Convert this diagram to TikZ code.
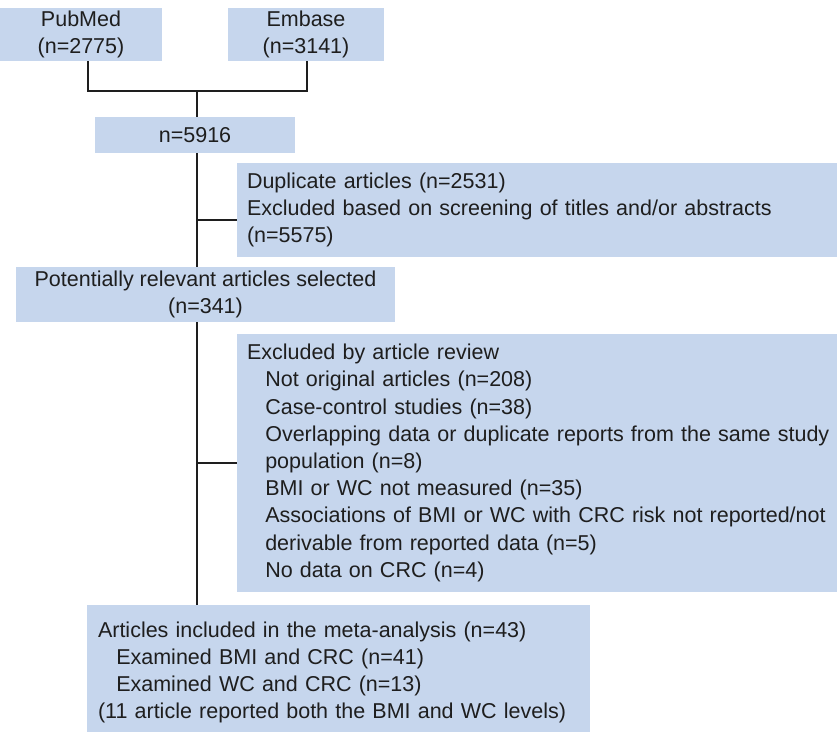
\documentclass[tikz,border=0pt]{standalone}
\usepackage{fontspec}
\setmainfont{Liberation Sans}
\definecolor{boxblue}{RGB}{198,214,237}
\definecolor{inkgray}{RGB}{30,30,30}
\newcommand{\ind}{\hspace*{0.85em}}
\begin{document}
\begin{tikzpicture}[x=1pt, y=-1pt,
    box/.style={fill=boxblue, text=inkgray, inner ysep=0pt,
        font=\fontsize{21.5}{27.2}\selectfont},
    cbox/.style={box, align=center, inner xsep=0pt},
    lbox/.style={box, align=left, inner xsep=10pt},
    link/.style={line width=2.7pt, draw=inkgray}]
    \useasboundingbox (0,0) rectangle (837,731);

    \node [cbox, minimum width=162pt, minimum height=53pt] (pub) at (81,34.5) {PubMed\\(n=2775)};
    \node [cbox, minimum width=156pt, minimum height=53pt] (emb) at (306,34.5) {Embase\\(n=3141)};
    \node [cbox, minimum width=200pt, minimum height=36pt] (total) at (195,135) {n=5916};
    \node [lbox, text width=624pt, minimum height=94pt] (dup) at (559,210)
        {Duplicate articles (n=2531)\\Excluded based on screening of titles and/or abstracts\\(n=5575)};
    \node [cbox, minimum width=379pt, minimum height=55pt] (rel) at (205.5,294.5)
        {Potentially relevant articles selected\\(n=341)};
    \node [lbox, text width=624pt, minimum height=258pt] (excl) at (559,463)
        {Excluded by article review\\
         \ind Not original articles (n=208)\\
         \ind Case-control studies (n=38)\\
         \ind Overlapping data or duplicate reports from the same study\\
         \ind population (n=8)\\
         \ind BMI or WC not measured (n=35)\\
         \ind Associations of BMI or WC with CRC risk not reported/not\\
         \ind derivable from reported data (n=5)\\
         \ind No data on CRC (n=4)};
    \node [lbox, inner xsep=11pt, text width=481pt, minimum height=135pt] (incl) at (338.5,672.5)
        {Articles included in the meta-analysis (n=43)\\
         \ind Examined BMI and CRC (n=41)\\
         \ind Examined WC and CRC (n=13)\\
         (11 article reported both the BMI and WC levels)};

    \coordinate (join) at (197,91);
    \draw [link] ([xshift=7pt]pub.south) |- (join) -| ([xshift=1pt]emb.south);
    \draw [link] (join) -- (join |- total.north);
    \draw [link] (join |- total.south) -- (join |- rel.north);
    \draw [link] (join |- rel.south) -- (join |- incl.north);
    \draw [link] ([yshift=-10pt]dup.west -| join) -- ([yshift=-10pt]dup.west);
    \draw [link] (excl.west -| join) -- (excl.west);
\end{tikzpicture}
\end{document}
